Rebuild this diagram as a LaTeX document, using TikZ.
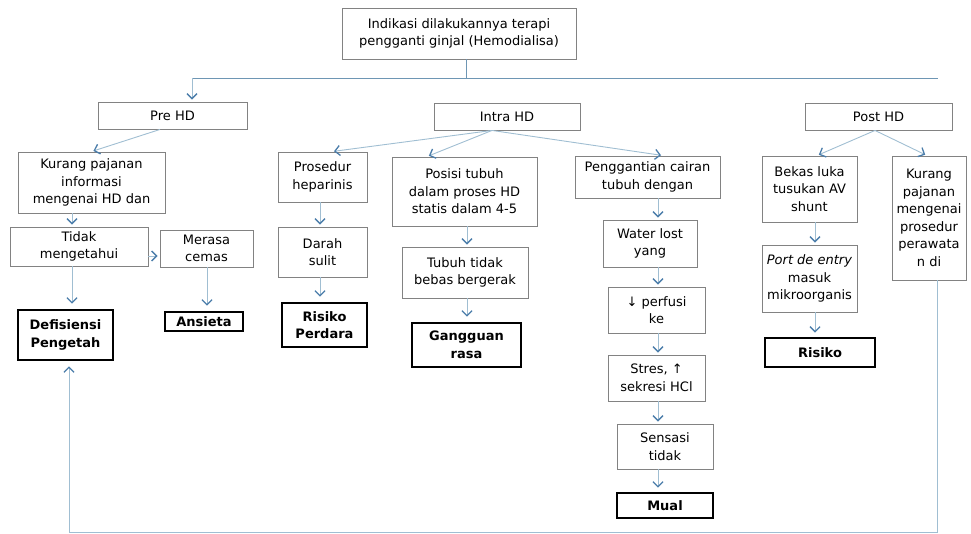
\documentclass[tikz,border=0pt]{standalone}
\usepackage{fontspec}
\setmainfont{DejaVu Sans}
\usetikzlibrary{arrows.meta}
\definecolor{linkblue}{RGB}{160,190,210}
\definecolor{busblue}{RGB}{110,150,180}
\definecolor{tipblue}{RGB}{75,125,170}
\definecolor{boxgray}{RGB}{130,130,130}

\begin{document}
\begin{tikzpicture}[x=1pt,y=-1pt,
    font=\fontsize{13}{17.5}\selectfont,
    box/.style={draw=boxgray,line width=0.9pt,align=center,inner sep=0pt},
    dx/.style={draw=black,line width=2.8pt,align=center,inner sep=0pt,font=\fontsize{13}{17.5}\selectfont\bfseries},
    link/.style={draw=linkblue,line width=0.9pt},
    arr/.style={link,-{Straight Barb[length=5pt,width=10pt,line width=1.3pt,color=tipblue]},shorten >=2pt}]
      \useasboundingbox (0,0) rectangle (971,534);
      % top of the tree
      \node[box,minimum width=234,minimum height=51] (top) at (459,33.5) {Indikasi dilakukannya terapi\\pengganti ginjal (Hemodialisa)};
      \node[box,minimum width=149,minimum height=27] (prehd) at (172.5,115.5) {Pre HD};
      \node[box,minimum width=146,minimum height=27] (intrahd) at (507,116.5) {Intra HD};
      \node[box,minimum width=147,minimum height=27] (posthd) at (878.5,116.5) {Post HD};
      \coordinate (busL) at (192,78);
      \coordinate (busM) at (466,78);
      \coordinate (busR) at (938,78);
      % pre HD
      \node[box,minimum width=147,minimum height=61] (kurangpre) at (91.5,182.5) {Kurang pajanan\\informasi\\mengenai HD dan};
      \node[box,minimum width=138,minimum height=39] (tidak) at (79,246.5) {Tidak\\mengetahui};
      \node[box,minimum width=93,minimum height=37] (merasa) at (206.5,248.5) {Merasa\\cemas};
      \node[dx,minimum width=95,minimum height=50] (defisiensi) at (65.5,335) {Defisiensi\\Pengetah};
      \node[dx,minimum width=78,minimum height=19] (ansieta) at (204,321.5) {Ansieta};
      % intra HD
      \node[box,minimum width=89,minimum height=50] (prosedur) at (322.5,177) {Prosedur\\heparinis};
      \node[box,minimum width=89,minimum height=50] (darah) at (322.5,252) {Darah\\sulit};
      \node[dx,minimum width=85,minimum height=44] (risikoperdara) at (324.5,325) {Risiko\\Perdara};
      \node[box,minimum width=145,minimum height=69] (posisi) at (464.5,191.5) {Posisi tubuh\\dalam proses HD\\statis dalam 4-5};
      \node[box,minimum width=126,minimum height=51] (tubuh) at (465,272.5) {Tubuh tidak\\bebas bergerak};
      \node[dx,minimum width=109,minimum height=44] (gangguan) at (466.5,345) {Gangguan\\rasa};
      \node[box,minimum width=145,minimum height=42] (penggantian) at (647.5,177) {Penggantian cairan\\tubuh dengan};
      \node[box,minimum width=94,minimum height=47] (water) at (650,243.5) {Water lost\\yang};
      \node[box,minimum width=97,minimum height=46] (perfusi) at (656.5,310) {↓ perfusi\\ke};
      \node[box,minimum width=97,minimum height=46] (stres) at (656.5,378) {Stres, ↑\\sekresi HCl};
      \node[box,minimum width=96,minimum height=45] (sensasi) at (665,446.5) {Sensasi\\tidak};
      \node[dx,minimum width=96,minimum height=25] (mual) at (665,505.5) {Mual};
      % post HD
      \node[box,minimum width=95,minimum height=66] (bekas) at (809.5,189) {Bekas luka\\tusukan AV\\shunt};
      \node[box,minimum width=95,minimum height=67] (port) at (809.5,278.5) {\textit{Port de entry}\\masuk\\mikroorganis};
      \node[dx,minimum width=110,minimum height=29] (risikoinf) at (820,352.5) {Risiko};
      \node[box,minimum width=74,minimum height=124] (kurangpost) at (929,218) {Kurang\\pajanan\\mengenai\\prosedur\\perawata\\n di};
      \coordinate (loopR) at (937,532);
      \coordinate (loopL) at (69,532);

      \draw[link,draw=busblue] (busM |- top.south) -- (busM);
      \draw[link,draw=busblue] (busL) -- (busR);
      \draw[arr] (busL) -- (busL |- prehd.north);
      \draw[arr] (prehd.south -| 160,0) -- (kurangpre.north);
      \draw[arr] (kurangpre.south -| 72,0) -- (tidak.north -| 72,0);
      \draw[arr] (tidak.east |- 0,256) -- (merasa.west |- 0,256);
      \draw[arr,shorten >=5pt] (tidak.south -| 72,0) -- (defisiensi.north -| 72,0);
      \draw[arr,shorten >=5pt] (merasa.south -| 207,0) -- (ansieta.north -| 207,0);
      \draw[arr] (intrahd.south -| 492,0) -- (prosedur.north -| 332,0);
      \draw[arr] (intrahd.south -| 492,0) -- (posisi.north -| 427,0);
      \draw[arr] (intrahd.south -| 492,0) -- (penggantian.north -| 663,0);
      \draw[arr] (prosedur.south -| 320,0) -- (darah.north -| 320,0);
      \draw[arr,shorten >=5pt] (darah.south -| 320,0) -- (risikoperdara.north -| 320,0);
      \draw[arr] (posisi.south -| 467,0) -- (tubuh.north -| 467,0);
      \draw[arr,shorten >=5pt] (tubuh.south -| 467,0) -- (gangguan.north -| 467,0);
      \draw[arr] (penggantian.south -| 658,0) -- (water.north -| 658,0);
      \draw[arr] (water.south -| 658,0) -- (perfusi.north -| 658,0);
      \draw[arr] (perfusi.south -| 658,0) -- (stres.north -| 658,0);
      \draw[arr] (stres.south -| 658,0) -- (sensasi.north -| 658,0);
      \draw[arr,shorten >=4pt] (sensasi.south -| 658,0) -- (mual.north -| 658,0);
      \draw[arr] (posthd.south -| 875,0) -- (bekas.north -| 817,0);
      \draw[arr] (posthd.south -| 875,0) -- (kurangpost.north -| 927,0);
      \draw[arr] (bekas.south -| 815,0) -- (port.north -| 815,0);
      \draw[arr,shorten >=4pt] (port.south -| 815,0) -- (risikoinf.north -| 815,0);
      \draw[arr,shorten >=5pt] (kurangpost.south -| loopR) -- (loopR) -- (loopL) -- (defisiensi.south -| loopL);
    \end{tikzpicture}
\end{document}
